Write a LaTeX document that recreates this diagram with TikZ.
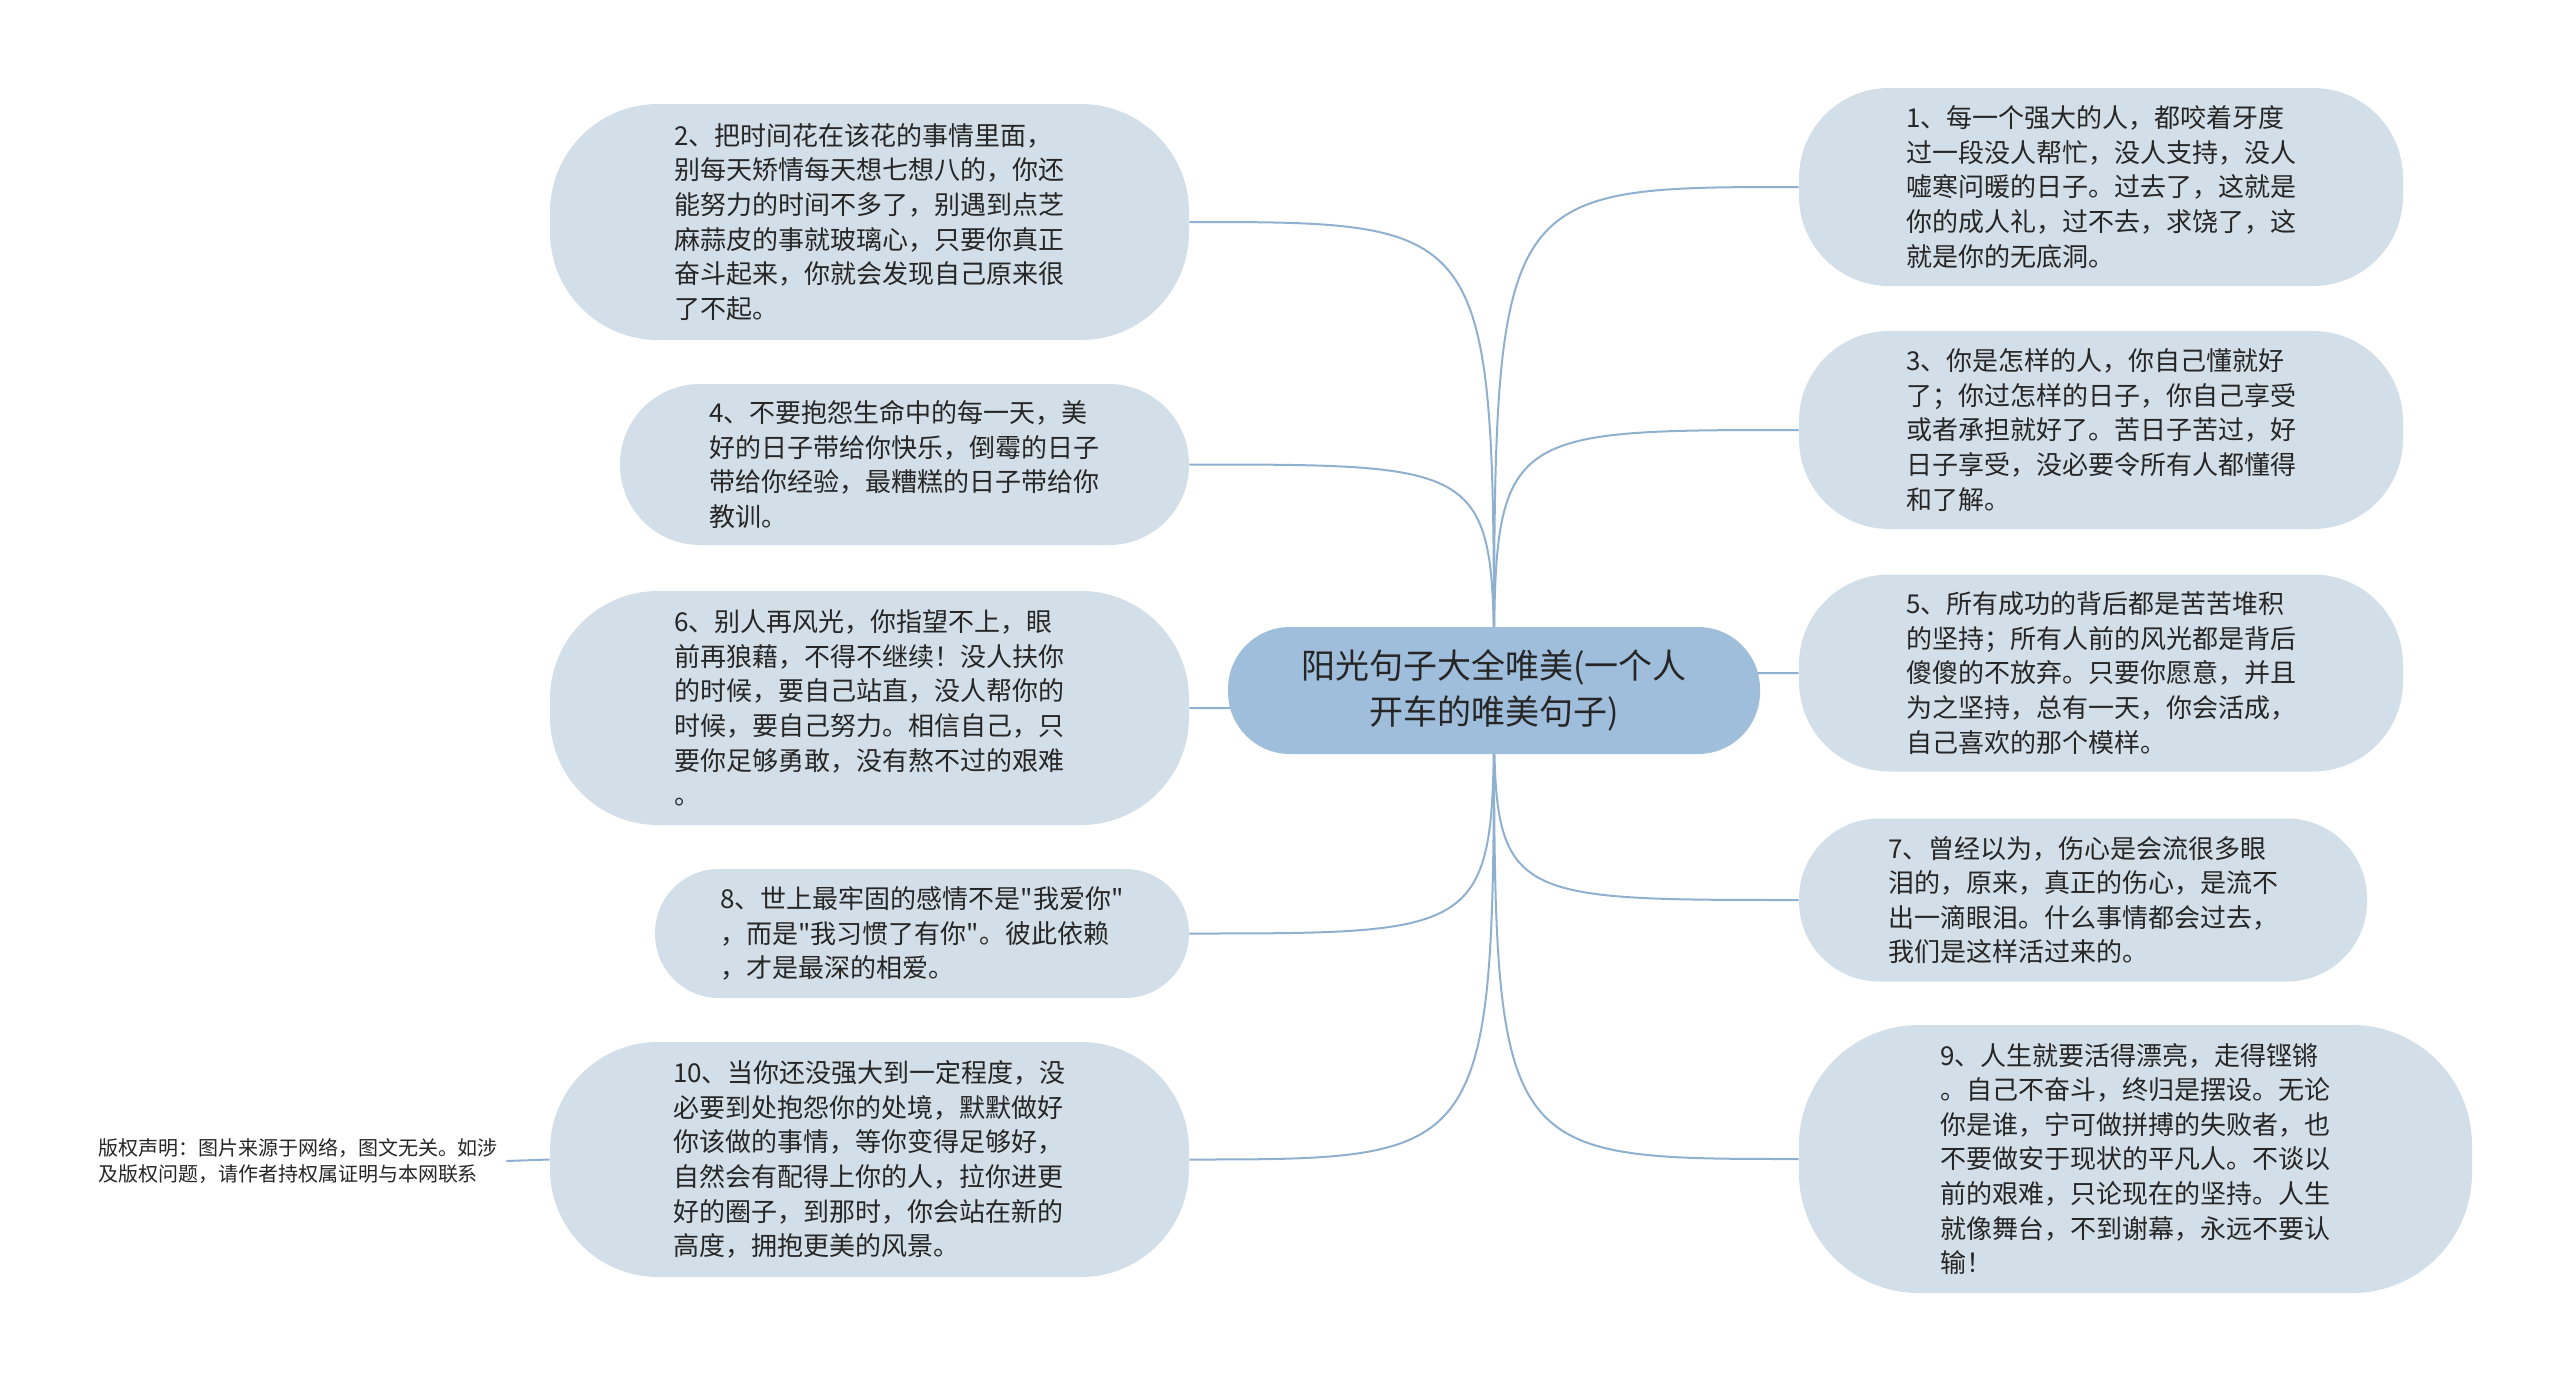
\documentclass[tikz,border=0pt]{standalone}
\usepackage{fontspec}
\setmainfont{Noto Sans CJK SC}[Ligatures=TeXOff]
\usetikzlibrary{backgrounds}
\definecolor{leaffill}{HTML}{D3DFE8}
\definecolor{rootfill}{HTML}{9FBEDB}
\definecolor{linkcol}{HTML}{8FB0CE}
\definecolor{inkcol}{HTML}{262626}
\tikzset{
  leaf/.style={fill=leaffill, text=inkcol, align=left, inner sep=0pt, font=\fontsize{13}{17.3}\selectfont},
  root/.style={fill=rootfill, text=inkcol, align=center, inner sep=0pt, minimum width=266pt, minimum height=63.5pt, rounded corners=31pt, font=\fontsize{17}{23}\selectfont},
  link/.style={draw=linkcol, line width=1pt},
  note/.style={text=inkcol, align=left, inner sep=4pt, font=\fontsize{10}{13}\selectfont},
}

\begin{document}
\begin{tikzpicture}[x=0.5pt, y=-0.5pt]
		%%%%% START %%%%%
		\useasboundingbox (0,0) rectangle (2560,1381);

		\node[root] (root) at (1494,690.5) {阳光句子大全唯美(一个人\\开车的唯美句子)};

		% right side
		\node[leaf, minimum width=302pt, minimum height=99pt, rounded corners=45pt] (n1) at (2101,187)
			{1、每一个强大的人，都咬着牙度\\过一段没人帮忙，没人支持，没人\\嘘寒问暖的日子。过去了，这就是\\你的成人礼，过不去，求饶了，这\\就是你的无底洞。};
		\node[leaf, minimum width=302pt, minimum height=99pt, rounded corners=45pt] (n3) at (2101,430)
			{3、你是怎样的人，你自己懂就好\\了；你过怎样的日子，你自己享受\\或者承担就好了。苦日子苦过，好\\日子享受，没必要令所有人都懂得\\和了解。};
		\node[leaf, minimum width=302pt, minimum height=98.5pt, rounded corners=45pt] (n5) at (2101,673)
			{5、所有成功的背后都是苦苦堆积\\的坚持；所有人前的风光都是背后\\傻傻的不放弃。只要你愿意，并且\\为之坚持，总有一天，你会活成，\\自己喜欢的那个模样。};
		\node[leaf, minimum width=284pt, minimum height=81.5pt, rounded corners=40pt] (n7) at (2083,900)
			{7、曾经以为，伤心是会流很多眼\\泪的，原来，真正的伤心，是流不\\出一滴眼泪。什么事情都会过去，\\我们是这样活过来的。};
		\node[leaf, minimum width=336.5pt, minimum height=134pt, rounded corners=60pt] (n9) at (2135.5,1159)
			{9、人生就要活得漂亮，走得铿锵\\。自己不奋斗，终归是摆设。无论\\你是谁，宁可做拼搏的失败者，也\\不要做安于现状的平凡人。不谈以\\前的艰难，只论现在的坚持。人生\\就像舞台，不到谢幕，永远不要认\\输！};

		% left side
		\node[leaf, minimum width=319.5pt, minimum height=118pt, rounded corners=54pt] (n2) at (869.5,222)
			{2、把时间花在该花的事情里面，\\别每天矫情每天想七想八的，你还\\能努力的时间不多了，别遇到点芝\\麻蒜皮的事就玻璃心，只要你真正\\奋斗起来，你就会发现自己原来很\\了不起。};
		\node[leaf, minimum width=284.5pt, minimum height=80.5pt, rounded corners=40pt] (n4) at (904.5,464.5)
			{4、不要抱怨生命中的每一天，美\\好的日子带给你快乐，倒霉的日子\\带给你经验，最糟糕的日子带给你\\教训。};
		\node[leaf, minimum width=319.5pt, minimum height=117pt, rounded corners=54pt] (n6) at (869.5,708)
			{6、别人再风光，你指望不上，眼\\前再狼藉，不得不继续！没人扶你\\的时候，要自己站直，没人帮你的\\时候，要自己努力。相信自己，只\\要你足够勇敢，没有熬不过的艰难\\。};
		\node[leaf, minimum width=267pt, minimum height=64.5pt, rounded corners=32pt] (n8) at (922,933.5)
			{8、世上最牢固的感情不是"我爱你"\\，而是"我习惯了有你"。彼此依赖\\，才是最深的相爱。};
		\node[leaf, minimum width=319.5pt, minimum height=117.5pt, rounded corners=54pt] (n10) at (869.5,1159.5)
			{10、当你还没强大到一定程度，没\\必要到处抱怨你的处境，默默做好\\你该做的事情，等你变得足够好，\\自然会有配得上你的人，拉你进更\\好的圈子，到那时，你会站在新的\\高度，拥抱更美的风景。};

		\node[note] (note) at (298,1161) {版权声明：图片来源于网络，图文无关。如涉\\及版权问题，请作者持权属证明与本网联系};

		% connectors
		\begin{pgfonlayer}{background}
			\foreach \n in {n1,n3,n5,n7,n9}
				\draw[link] (root.center) .. controls (root.center |- \n.west) .. (\n.west);
			\foreach \n in {n2,n4,n6,n8,n10}
				\draw[link] (root.center) .. controls (root.center |- \n.east) .. (\n.east);
		\end{pgfonlayer}
		\draw[link] (note.east) -- (n10.west);
		%%%%% END %%%%%
\end{tikzpicture}
\end{document}
